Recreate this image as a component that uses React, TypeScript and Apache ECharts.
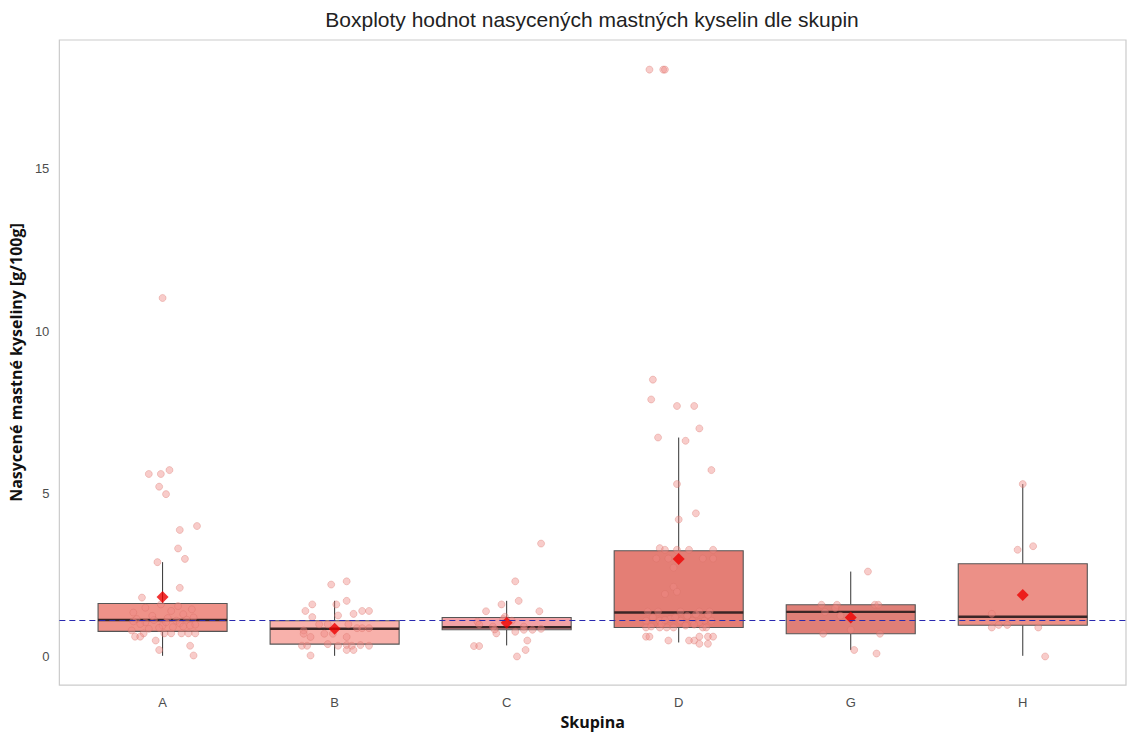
import React, { useEffect, useRef } from 'react';
import * as echarts from 'echarts';

const CATEGORIES = ['A', 'B', 'C', 'D', 'G', 'H'];
const WHISKER_LOW = [0.02, 0.02, 0.34, 0.43, 0.2, 0.02];
const Q1 = [0.77, 0.38, 0.82, 0.89, 0.7, 0.96];
const MEDIAN = [1.12, 0.85, 0.9, 1.35, 1.37, 1.22];
const Q3 = [1.63, 1.1, 1.2, 3.25, 1.59, 2.85];
const WHISKER_HIGH = [2.9, 1.71, 1.71, 6.73, 2.61, 5.3];
const MEANS = [1.83, 0.85, 1.04, 3.0, 1.2, 1.89];
const BOX_FILLS = ['#ef9289', '#f8b1ab', '#f2a2a6', '#e47e75', '#df7f77', '#ec9087'];
const REFERENCE_LEVEL = 1.1;
const Y_TICKS = [0, 5, 10, 15];

// [value, horizontal jitter in category units]
const POINTS_A = [
  [11.02, 0.0], [5.61, -0.08], [5.61, -0.01], [5.73, 0.04], [5.22, -0.02], [4.99, 0.02],
  [3.89, 0.1], [4.01, 0.2], [3.32, 0.09], [3.0, 0.13], [2.9, -0.03], [2.11, 0.1], [1.81, -0.12],
  [1.15, -0.15], [1.12, -0.05], [1.18, 0.03], [1.1, 0.08], [1.13, 0.14], [1.2, 0.18], [1.05, -0.1], [0.95, 0.0],
  [0.71, -0.11], [0.71, 0.01], [0.71, 0.05], [0.71, 0.11], [0.71, 0.15], [0.71, 0.19],
  [0.61, -0.16], [0.61, -0.13], [0.49, -0.04], [0.2, -0.02], [0.33, 0.16], [0.03, 0.18],
  [0.8, -0.18], [0.85, -0.08], [0.9, 0.06], [0.95, 0.16], [1.0, -0.13], [1.02, 0.1], [1.05, 0.02],
  [0.88, -0.02], [0.92, 0.12], [1.08, -0.17], [0.98, 0.19],
  [1.25, -0.06], [1.3, 0.12], [1.35, -0.17], [1.4, 0.05], [1.45, 0.17], [1.5, -0.1], [1.55, 0.09], [1.6, -0.01],
];
const POINTS_B = [
  [2.21, -0.02], [2.31, 0.07], [1.6, -0.13], [1.4, -0.17], [1.71, 0.07], [1.6, 0.01], [1.21, -0.13],
  [1.26, 0.02], [1.31, 0.11], [1.4, 0.16], [1.4, 0.2], [0.99, -0.09], [0.99, -0.04], [0.99, 0.08],
  [0.8, -0.18], [0.7, -0.18], [0.6, -0.14], [0.6, 0.07], [0.87, 0.13], [0.87, 0.16], [0.87, 0.2],
  [0.7, -0.06], [0.7, -0.01], [0.33, -0.19], [0.33, -0.16], [0.38, -0.04], [0.33, 0.02], [0.35, 0.07],
  [0.33, 0.1], [0.35, 0.15], [0.33, 0.2], [0.2, 0.07], [0.2, 0.11], [0.03, -0.14],
];
const POINTS_C = [
  [3.47, 0.2], [2.31, 0.05], [1.71, 0.07], [1.6, -0.03], [1.39, -0.12], [1.39, 0.19], [1.22, -0.01],
  [1.07, -0.17], [0.98, -0.16], [0.92, -0.08], [0.71, -0.06], [0.83, -0.07], [0.76, 0.05], [0.82, 0.1],
  [0.82, 0.15], [0.85, 0.2], [0.92, 0.1], [0.49, 0.12], [0.32, -0.19], [0.32, -0.16], [0.2, 0.11],
  [0.0, 0.06], [1.15, -0.02], [1.1, 0.03],
];
const POINTS_D = [
  [18.04, -0.17], [18.04, -0.09], [18.04, -0.08], [8.51, -0.15], [7.9, -0.16], [7.7, -0.01], [7.7, 0.09],
  [7.01, 0.12], [6.73, -0.12], [6.63, 0.04], [5.73, 0.19], [5.3, -0.01], [4.4, 0.1], [4.21, 0.0],
  [3.33, -0.11], [3.28, -0.08], [3.28, -0.01], [3.28, 0.06], [3.28, 0.2], [3.01, -0.13], [3.01, -0.06],
  [3.01, 0.14], [3.01, 0.2], [2.73, -0.03], [2.14, -0.03], [1.99, -0.01], [1.92, -0.08],
  [1.38, -0.18], [1.38, -0.12], [1.38, 0.01], [1.38, 0.12], [1.38, 0.18],
  [1.1, -0.19], [1.1, -0.11], [1.1, 0.01], [1.1, 0.08], [1.1, 0.15], [1.1, 0.19],
  [0.89, -0.19], [0.89, -0.11], [0.89, -0.07], [0.89, -0.03], [0.89, 0.14], [0.89, 0.16],
  [0.61, -0.19], [0.61, -0.17], [0.49, -0.06], [0.49, 0.06], [0.49, 0.09], [0.61, 0.12], [0.61, 0.17],
  [0.61, 0.2], [0.39, 0.12], [0.39, 0.17],
  [1.2, -0.15], [1.25, 0.05], [1.15, -0.05], [1.3, 0.1], [1.0, -0.1], [0.95, 0.04], [1.05, 0.12],
  [1.2, -0.02], [0.92, -0.16], [1.28, 0.17], [1.12, -0.08], [0.98, 0.09],
];
const POINTS_G = [
  [2.61, 0.1], [1.59, -0.17], [1.59, -0.08], [1.59, 0.14], [1.59, 0.16], [1.37, -0.15], [1.49, -0.09],
  [1.25, -0.06], [0.82, 0.0], [0.7, -0.16], [0.7, 0.17], [0.2, 0.02], [0.09, 0.15],
];
const POINTS_H = [
  [5.3, 0.0], [3.28, -0.03], [3.39, 0.06], [1.31, -0.18], [0.89, -0.18], [0.97, -0.14], [0.97, -0.09],
  [0.89, 0.09], [0.0, 0.13],
];
const GROUP_POINTS = [POINTS_A, POINTS_B, POINTS_C, POINTS_D, POINTS_G, POINTS_H];

const BOX_WIDTH = 0.75;

export default function App() {
  const ref = useRef<HTMLDivElement>(null);

  useEffect(() => {
    if (!ref.current) return;
    const chart = echarts.init(ref.current, null, { renderer: 'svg' });

    const boxData = CATEGORIES.map((_, i) => [i, WHISKER_LOW[i], Q1[i], MEDIAN[i], Q3[i], WHISKER_HIGH[i]]);
    const jitterData: number[][] = [];
    GROUP_POINTS.forEach((pts, gi) => {
      pts.forEach(([v, j]) => jitterData.push([gi + j, v]));
    });
    const meanData = MEANS.map((m, i) => [i, m]);

    const option: any = {
      animation: false,
      backgroundColor: '#ffffff',
      title: {
        text: 'Boxploty hodnot nasycených mastných kyselin dle skupin',
        left: 592,
        top: 9,
        padding: 0,
        textAlign: 'center',
        textStyle: {
          fontFamily: 'Liberation Sans, Arial, sans-serif',
          fontSize: 21,
          fontWeight: 'normal',
          color: '#222222',
        },
      },
      grid: {
        left: 57.5,
        right: 1,
        top: 40,
        bottom: 45.7,
        show: true,
        borderColor: '#cbcbcb',
        borderWidth: 1.2,
        backgroundColor: 'transparent',
      },
      xAxis: {
        type: 'value',
        min: -0.6,
        max: 5.6,
        axisLine: { show: false },
        axisTick: { show: false },
        splitLine: { show: false },
        axisLabel: {
          customValues: [0, 1, 2, 3, 4, 5],
          formatter: (v: number) => CATEGORIES[Math.round(v)] ?? '',
          color: '#4d4d4d',
          fontFamily: 'Liberation Sans, Arial, sans-serif',
          fontSize: 13,
          margin: 11,
        },
        name: 'Skupina',
        nameLocation: 'middle',
        nameGap: 25,
        nameTextStyle: {
          fontFamily: 'Open Sans, sans-serif',
          fontWeight: 'bold',
          fontSize: 16,
          color: '#111111',
        },
      },
      yAxis: {
        type: 'value',
        min: -0.88,
        max: 18.95,
        axisLine: { show: false },
        axisTick: { show: false },
        splitLine: { show: false },
        axisLabel: {
          customValues: Y_TICKS,
          color: '#4d4d4d',
          fontFamily: 'Liberation Sans, Arial, sans-serif',
          fontSize: 13,
          margin: 10,
        },
        name: 'Nasycené mastné kyseliny [g/100g]',
        nameLocation: 'middle',
        nameGap: 28,
        nameTextStyle: {
          fontFamily: 'Open Sans, sans-serif',
          fontWeight: 'bold',
          fontSize: 16,
          color: '#111111',
        },
      },
      series: [
        {
          type: 'custom',
          name: 'box',
          z: 2,
          encode: { x: 0, y: [1, 2, 3, 4, 5] },
          data: boxData,
          renderItem: (params: any, api: any) => {
            const x = api.value(0);
            const lo = api.coord([x, api.value(1)]);
            const q1 = api.coord([x, api.value(2)]);
            const md = api.coord([x, api.value(3)]);
            const q3 = api.coord([x, api.value(4)]);
            const hi = api.coord([x, api.value(5)]);
            const w = api.size([BOX_WIDTH, 0])[0];
            const fill = BOX_FILLS[params.dataIndex];
            return {
              type: 'group',
              children: [
                {
                  type: 'line',
                  shape: { x1: hi[0], y1: hi[1], x2: q3[0], y2: q3[1] },
                  style: { stroke: '#333333', lineWidth: 1 },
                },
                {
                  type: 'line',
                  shape: { x1: lo[0], y1: lo[1], x2: q1[0], y2: q1[1] },
                  style: { stroke: '#333333', lineWidth: 1 },
                },
                {
                  type: 'rect',
                  shape: { x: q3[0] - w / 2, y: q3[1], width: w, height: q1[1] - q3[1] },
                  style: { fill, stroke: '#555555', lineWidth: 1.1 },
                },
                {
                  type: 'line',
                  shape: { x1: md[0] - w / 2, y1: md[1], x2: md[0] + w / 2, y2: md[1] },
                  style: { stroke: '#3a2626', lineWidth: 2.4 },
                },
              ],
            };
          },
        },
        {
          type: 'scatter',
          name: 'points',
          z: 3,
          symbol: 'circle',
          symbolSize: 7,
          data: jitterData,
          itemStyle: {
            color: 'rgba(240,140,135,0.55)',
            borderColor: 'rgba(215,110,100,0.5)',
            borderWidth: 0.8,
          },
          silent: true,
        },
        {
          type: 'scatter',
          name: 'means',
          z: 4,
          symbol: 'diamond',
          symbolSize: 12,
          data: meanData,
          itemStyle: { color: '#ee0000' },
          markLine: {
            silent: true,
            symbol: 'none',
            label: { show: false },
            z: 5,
            lineStyle: { color: '#2a2ab0', type: [6, 4], width: 1.2, opacity: 1 },
            emphasis: { disabled: true },
            data: [{ yAxis: REFERENCE_LEVEL, lineStyle: { color: '#2a2ab0' } }],
          },
        },
      ],
    };

    chart.setOption(option);
    return () => {
      chart.dispose();
    };
  }, []);

  return (
    <div
      ref={ref}
      style={{ position: 'fixed', left: 0, top: 0, width: 1127, height: 735, background: '#fff' }}
    />
  );
}
